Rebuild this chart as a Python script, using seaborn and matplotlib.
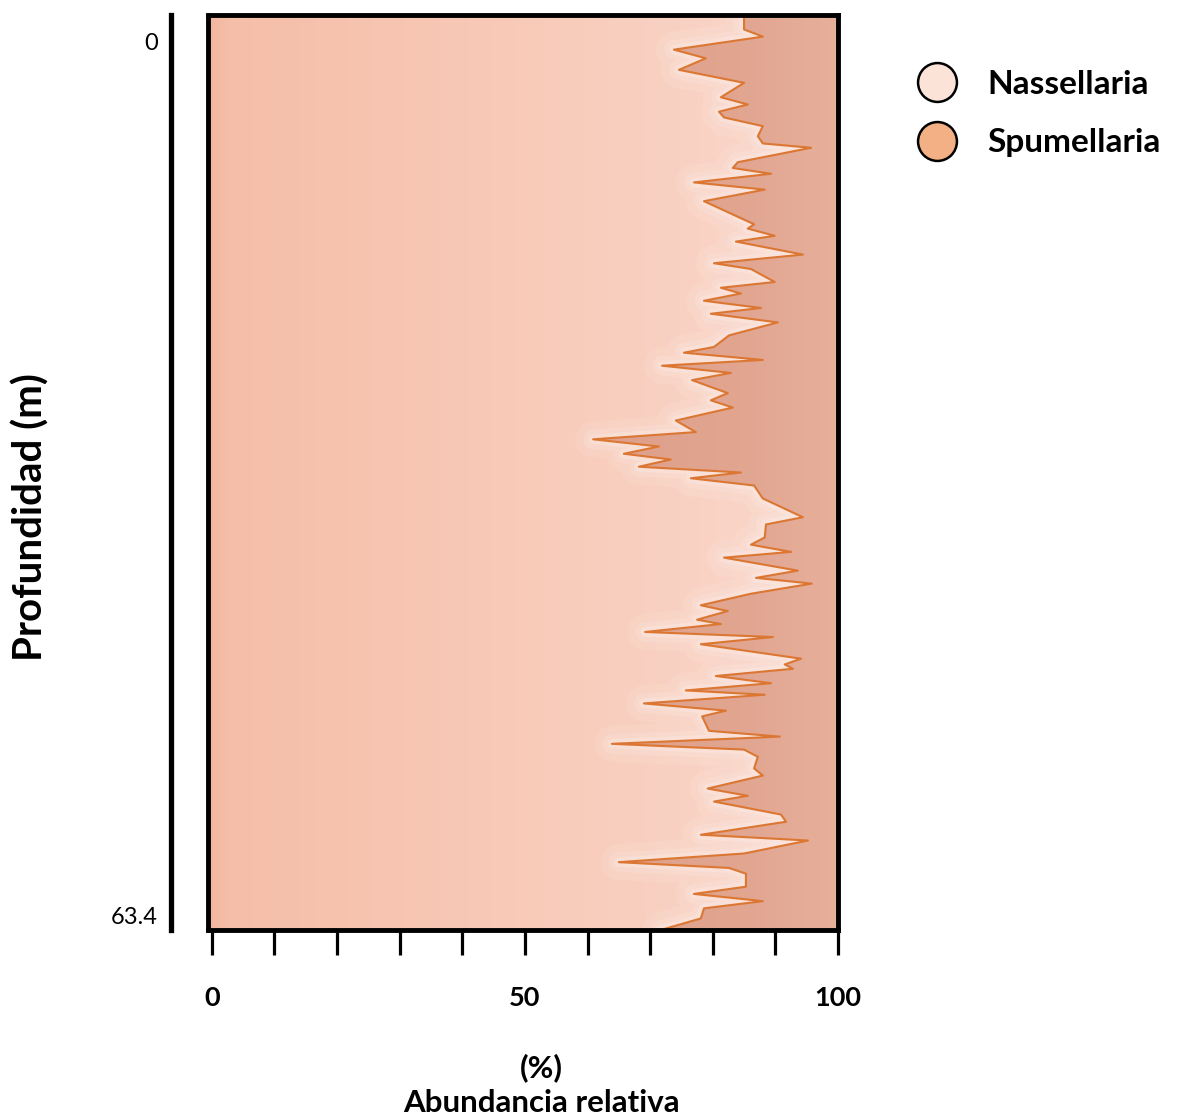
import numpy as np
import matplotlib
matplotlib.use("Agg")
import matplotlib.pyplot as plt
from matplotlib.colors import LinearSegmentedColormap
from matplotlib.lines import Line2D
from matplotlib.transforms import ScaledTranslation
import seaborn as sns

# Depth of each sample (m) and relative abundance of Nassellaria (%)
depth = [0.0, 1.0, 1.5, 2.4, 3.0, 3.8, 4.7, 5.7, 6.2, 6.7, 7.1, 7.7, 8.4, 8.9, 9.2,
         10.2, 10.6, 11.0, 11.6, 12.1, 12.9, 14.5, 14.8, 15.3, 15.7, 16.6, 17.2, 17.6,
         18.5, 18.9, 19.3, 19.8, 20.3, 20.7, 21.3, 22.2, 23.0, 23.4, 23.9, 24.3, 24.8,
         25.3, 26.2, 26.7, 27.2, 28.1, 28.9, 29.4, 29.9, 30.4, 30.8, 31.3, 31.7, 32.1,
         32.6, 33.5, 34.8, 35.3, 36.2, 36.7, 37.2, 37.6, 38.5, 39.0, 39.4, 40.1, 40.9,
         41.3, 41.9, 42.2, 42.75, 43.1, 43.6, 44.6, 45.0, 45.3, 45.8, 46.3, 46.8, 47.1,
         47.7, 48.2, 48.6, 49.6, 50.0, 50.5, 50.9, 51.4, 52.2, 52.7, 53.6, 54.1, 54.5,
         55.4, 55.9, 56.8, 57.2, 58.1, 58.7, 59.1, 59.5, 60.4, 60.9, 61.4, 61.9, 62.6,
         63.4]
nassellaria = [85.0, 85.0, 88.0, 73.8, 78.9, 74.6, 85.0, 81.3, 85.6, 81.0, 81.8, 88.0,
               87.2, 88.0, 95.7, 84.0, 83.2, 89.3, 77.0, 88.3, 78.6, 86.6, 85.6, 89.9,
               83.7, 94.4, 80.2, 86.1, 89.9, 81.3, 84.5, 78.6, 87.7, 79.7, 90.4, 82.6,
               80.2, 75.4, 88.0, 71.9, 82.9, 76.7, 82.4, 79.7, 83.2, 74.1, 77.3, 60.9,
               71.4, 65.8, 73.3, 68.2, 84.5, 76.5, 86.6, 88.0, 94.4, 88.5, 88.3, 86.1,
               92.5, 81.8, 93.6, 86.9, 95.8, 86.1, 78.1, 82.4, 77.5, 81.3, 69.2, 89.6,
               78.1, 94.1, 91.5, 92.8, 80.5, 89.3, 75.7, 88.3, 69.0, 82.1, 78.3, 79.4,
               90.7, 63.9, 85.0, 87.2, 86.6, 88.0, 79.2, 85.6, 80.2, 90.9, 91.7, 78.1,
               95.2, 85.0, 65.0, 82.6, 85.3, 85.3, 77.0, 88.0, 78.6, 78.1, 71.7]
groups = ["Nassellaria", "Spumellaria"]
group_colors = ["#FBE3D8", "#F2B084"]
x_ticks = list(range(0, 101, 10))
x_ticklabels = ["0", "", "", "", "", "50", "", "", "", "", "100"]
depth_ticks = [0.0, 63.4]
depth_ticklabels = ["0", "63.4"]

sns.set_style("white")
plt.rcParams["font.family"] = ["Lato", "DejaVu Sans"]
plt.rcParams["text.color"] = "black"
plt.rcParams["axes.labelcolor"] = "black"
plt.rcParams["xtick.color"] = "black"
plt.rcParams["ytick.color"] = "black"

W, H = 1179, 1118
fig = plt.figure(figsize=(W / 100, H / 100), dpi=100)
ax = fig.add_axes([208 / W, 1 - 930 / H, 630 / W, 915 / H])

x0, x1 = -0.6, 100.0
d = np.asarray(depth)
n = np.asarray(nassellaria)

# Nassellaria area with a soft horizontal gradient
nass_poly = ax.fill_betweenx(d, x0, n, facecolor="none", lw=0)
nass_path = nass_poly.get_paths()[0]
nass_cmap = LinearSegmentedColormap.from_list(
    "nass", [(0.0, "#F1B59E"), (0.03, "#F5BEA8"), (0.45, "#F8C9B7"),
             (0.75, "#F9D1C2"), (1.0, "#FBDACD")])
grad = np.linspace(0, 1, 512).reshape(1, -1)
im_n = ax.imshow(grad, extent=[x0, x1, 63.4, 0], aspect="auto", cmap=nass_cmap,
                 zorder=1, interpolation="bilinear")
im_n.set_clip_path(nass_path, ax.transData)

# Spumellaria area stacked on top
spum_poly = ax.fill_betweenx(d, n, x1, facecolor="none", lw=0)
spum_path = spum_poly.get_paths()[0]
spum_cmap = LinearSegmentedColormap.from_list(
    "spum", [(0.0, "#DE9F89"), (0.6, "#E1A590"), (1.0, "#E7B09B")])
grad2 = np.linspace(0, 1, 512).reshape(1, -1)
im_s = ax.imshow(grad2, extent=[60, x1, 63.4, 0], aspect="auto", cmap=spum_cmap,
                 zorder=1, interpolation="bilinear")
im_s.set_clip_path(spum_path, ax.transData)

# light glow along the Nassellaria side of the boundary
for lw, a in [(26, 0.09), (14, 0.12), (7, 0.18)]:
    glow, = ax.plot(n, d, color="white", lw=lw, alpha=a, zorder=2,
                    solid_joinstyle="round", solid_capstyle="round")
    glow.set_clip_path(nass_path, ax.transData)

# top edge of the stacked areas
ax.plot([x0, x1], [0.05, 0.05], color="#EE9C72", lw=1.2, zorder=2)

# boundary between the two groups
sns.lineplot(x=nassellaria, y=depth, orient="y", sort=False, estimator=None,
             color="#DB7733", lw=1.5, ax=ax, zorder=3, legend=False)

ax.set_xlim(x0, x1)
ax.set_ylim(63.4, 0)
ax.set_ylabel("")

# frame
for side in ["top", "right", "bottom"]:
    ax.spines[side].set_visible(True)
    ax.spines[side].set_linewidth(3.5)
    ax.spines[side].set_color("black")
    ax.spines[side].set_zorder(5)
ax.axvline(x0, color="black", lw=3.5, clip_on=False, zorder=5)

# depth scale bar on the left
ax.spines["left"].set_visible(True)
ax.spines["left"].set_position(("outward", 27))
ax.spines["left"].set_linewidth(3.8)
ax.spines["left"].set_color("black")
ax.set_yticks(depth_ticks, labels=depth_ticklabels, fontsize=17)
ax.tick_params(axis="y", length=0, pad=9, left=True)
for lab, dy in zip(ax.get_yticklabels(), [-27, 15]):
    lab.set_transform(lab.get_transform() + ScaledTranslation(0, dy / 100, fig.dpi_scale_trans))

# x axis ticks
ax.set_xticks(x_ticks, labels=x_ticklabels, fontsize=19.5, fontweight="bold")
ax.tick_params(axis="x", direction="out", length=18, width=2.3, pad=22,
               bottom=True, color="black")

ax.set_xlabel("(%)\nAbundancia relativa", fontsize=22.5, fontweight="bold",
              linespacing=1.3)
ax.xaxis.set_label_coords(0.529, -0.135)
ax.xaxis.label.set_va("top")

fig.text(31 / W, 1 - 517 / H, "Profundidad (m)", rotation=90, ha="center",
         va="center", fontsize=29, fontweight="bold")

handles = [Line2D([], [], marker="o", ls="", markersize=28, markerfacecolor=c,
                  markeredgecolor="black", markeredgewidth=1.8) for c in group_colors]
fig.legend(handles, groups, loc="upper left", bbox_to_anchor=(917 / W, 1 - 70 / H),
           frameon=False, prop={"family": ["Lato", "DejaVu Sans"], "weight": "bold", "size": 24},
           handletextpad=0.9, labelspacing=0.88, borderpad=0, borderaxespad=0,
           handlelength=1.2)

fig.savefig("out.png", dpi=100)
